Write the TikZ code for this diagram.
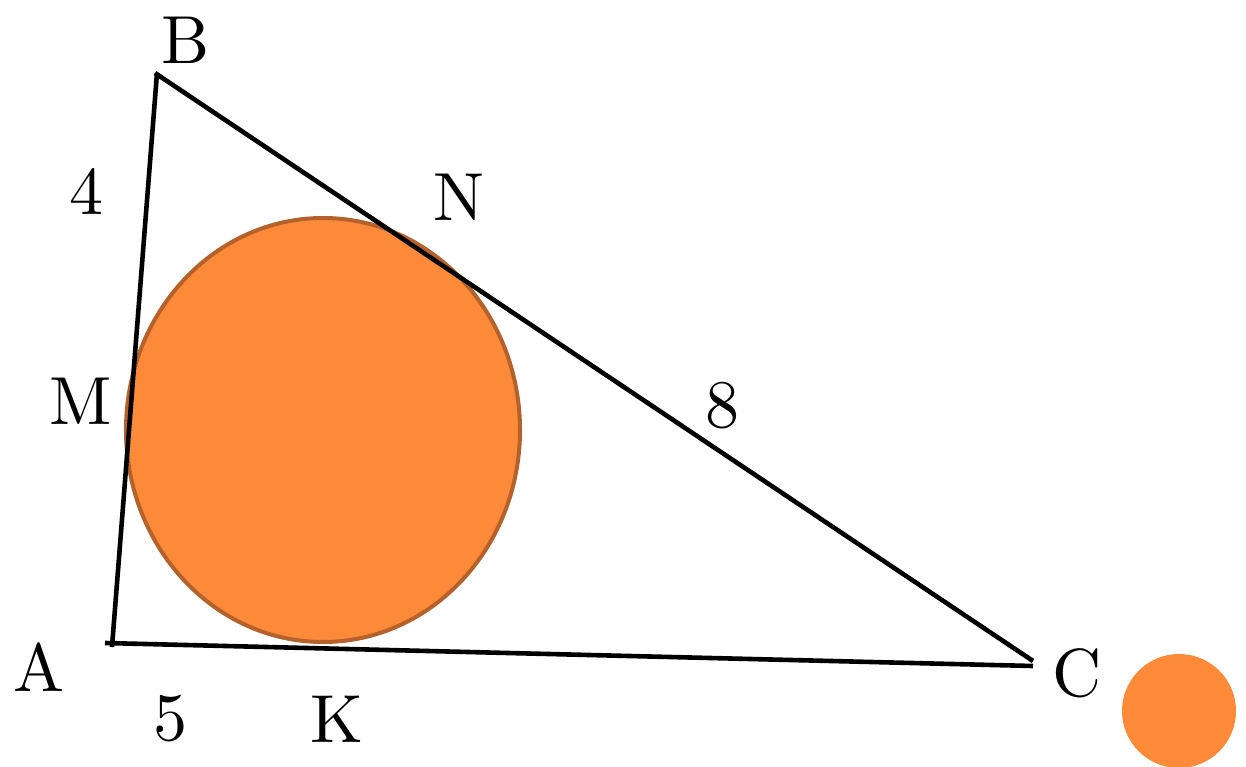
\documentclass[tikz,border=0pt]{standalone}
\definecolor{orfill}{HTML}{FD8A38}
\definecolor{ordraw}{HTML}{B5612C}
\font\lblfont=cmr10 at 68pt
\begin{document}
\begin{tikzpicture}[x=1pt,y=-1pt,
  lbl/.style={font=\lblfont, inner sep=0pt},
  side/.style={line width=4.6pt, black}]
\useasboundingbox (0,0) rectangle (1246,767);
\fill[white] (0,0) rectangle (1246,767);
\draw[fill=orfill, draw=ordraw, line width=4pt] (323,430) ellipse [x radius=197, y radius=212];
\fill[orfill] (1179,711) circle [radius=57];
\coordinate (A1) at (105,643);
\coordinate (C1) at (1033,666);
\coordinate (A2) at (112,647);
\coordinate (B1) at (157,73);
\coordinate (B2) at (155,73);
\coordinate (C2) at (1033,661);
\draw[side] (A1) -- (C1);
\draw[side] (A2) -- (B1);
\draw[side] (B2) -- (C2);
\node[lbl] (lB) at (186,40) {B};
\node[lbl] (l4) at (86,193) {4};
\node[lbl] (lN) at (459,197) {N};
\node[lbl] (lM) at (81,401) {M};
\node[lbl] (l8) at (722,406) {8};
\node[lbl] (lA) at (39,668) {A};
\node[lbl] (lC) at (1077,673) {C};
\node[lbl] (l5) at (170,719) {5};
\node[lbl] (lK) at (337,719) {K};
\end{tikzpicture}
\end{document}
